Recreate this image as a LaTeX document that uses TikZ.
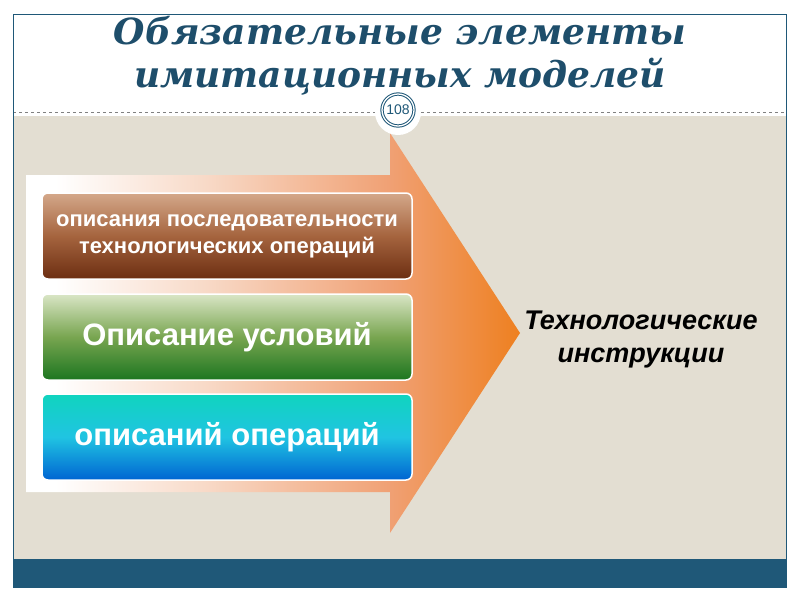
\documentclass[tikz,border=0pt]{standalone}
\usepackage{fontspec}
\setmainfont{DejaVu Serif}
\setsansfont{Liberation Sans}

\definecolor{framblue}{RGB}{31,88,120}
\definecolor{titleblue}{RGB}{30,78,107}
\definecolor{bodybeige}{RGB}{227,222,210}
\definecolor{arrowpeach}{RGB}{248,218,200}
\definecolor{arrowsalmon}{RGB}{240,160,115}
\definecolor{arrowtip}{RGB}{238,128,32}
\definecolor{browntop}{RGB}{212,168,138}
\definecolor{brownmid}{RGB}{165,100,62}
\definecolor{brownbot}{RGB}{108,46,18}
\definecolor{greentop}{RGB}{218,230,198}
\definecolor{greenmid}{RGB}{120,165,80}
\definecolor{greenbot}{RGB}{28,118,32}
\definecolor{bluetop}{RGB}{16,212,190}
\definecolor{bluemid}{RGB}{32,196,226}
\definecolor{bluebot}{RGB}{0,100,210}

\pgfdeclarehorizontalshading{arrowshade}{100bp}{color(0bp)=(white); color(28bp)=(white);
  color(43bp)=(arrowpeach); color(62bp)=(arrowsalmon); color(75bp)=(arrowtip); color(100bp)=(arrowtip)}

\begin{document}
\begin{tikzpicture}[x=1pt, y=-1pt,
    box/.style={draw=white, line width=1.5pt, rounded corners=6pt, minimum width=370pt,
      minimum height=86pt, text=white, align=center, font=\sffamily\bfseries},
    title/.style={align=center, text=titleblue, font=\rmfamily\bfseries\itshape\fontsize{36}{43}\selectfont}]
  \useasboundingbox (0,0) rectangle (800,600);
  \fill[white] (0,0) rectangle (800,600);

  % body and footer
  \fill[bodybeige] (13,116) rectangle (786,559);
  \fill[framblue] (13,559) rectangle (786,587);
  \draw[gray, dashed, thin] (13,112) -- (786,112);

  % big arrow
  \shade[shading=arrowshade] (26,175) -- (390,175) -- (390,133) -- (520,333)
    -- (390,533) -- (390,492) -- (26,492) -- cycle;

  % page number
  \fill[white] (398,112) circle (23);
  \node[circle, draw=framblue, double=white, double distance=1.3pt, line width=1pt,
    minimum size=32pt, inner sep=0pt, text=framblue, font=\sffamily\fontsize{14}{14}\selectfont]
    (page) at (398,110) {108};

  \draw[framblue, line width=1pt] (13,14) rectangle (786,587);

  \node[title] (title) at (400,56) {Обязательные элементы\\имитационных моделей};

  \node[box, top color=browntop, bottom color=brownbot, middle color=brownmid,
    font=\sffamily\bfseries\fontsize{22}{27}\selectfont] (seq) at (227,236)
    {описания последовательности\\технологических операций};
  \node[box, top color=greentop, bottom color=greenbot, middle color=greenmid,
    font=\sffamily\bfseries\fontsize{31}{34}\selectfont] (cond) at (227,337)
    {Описание условий};
  \node[box, top color=bluetop, bottom color=bluebot, middle color=bluemid,
    font=\sffamily\bfseries\fontsize{31}{34}\selectfont] (oper) at (227,437)
    {описаний операций};

  \node[align=center, font=\sffamily\bfseries\itshape\fontsize{27}{33}\selectfont]
    (instr) at (641,340) {Технологические\\инструкции};
\end{tikzpicture}
\end{document}
